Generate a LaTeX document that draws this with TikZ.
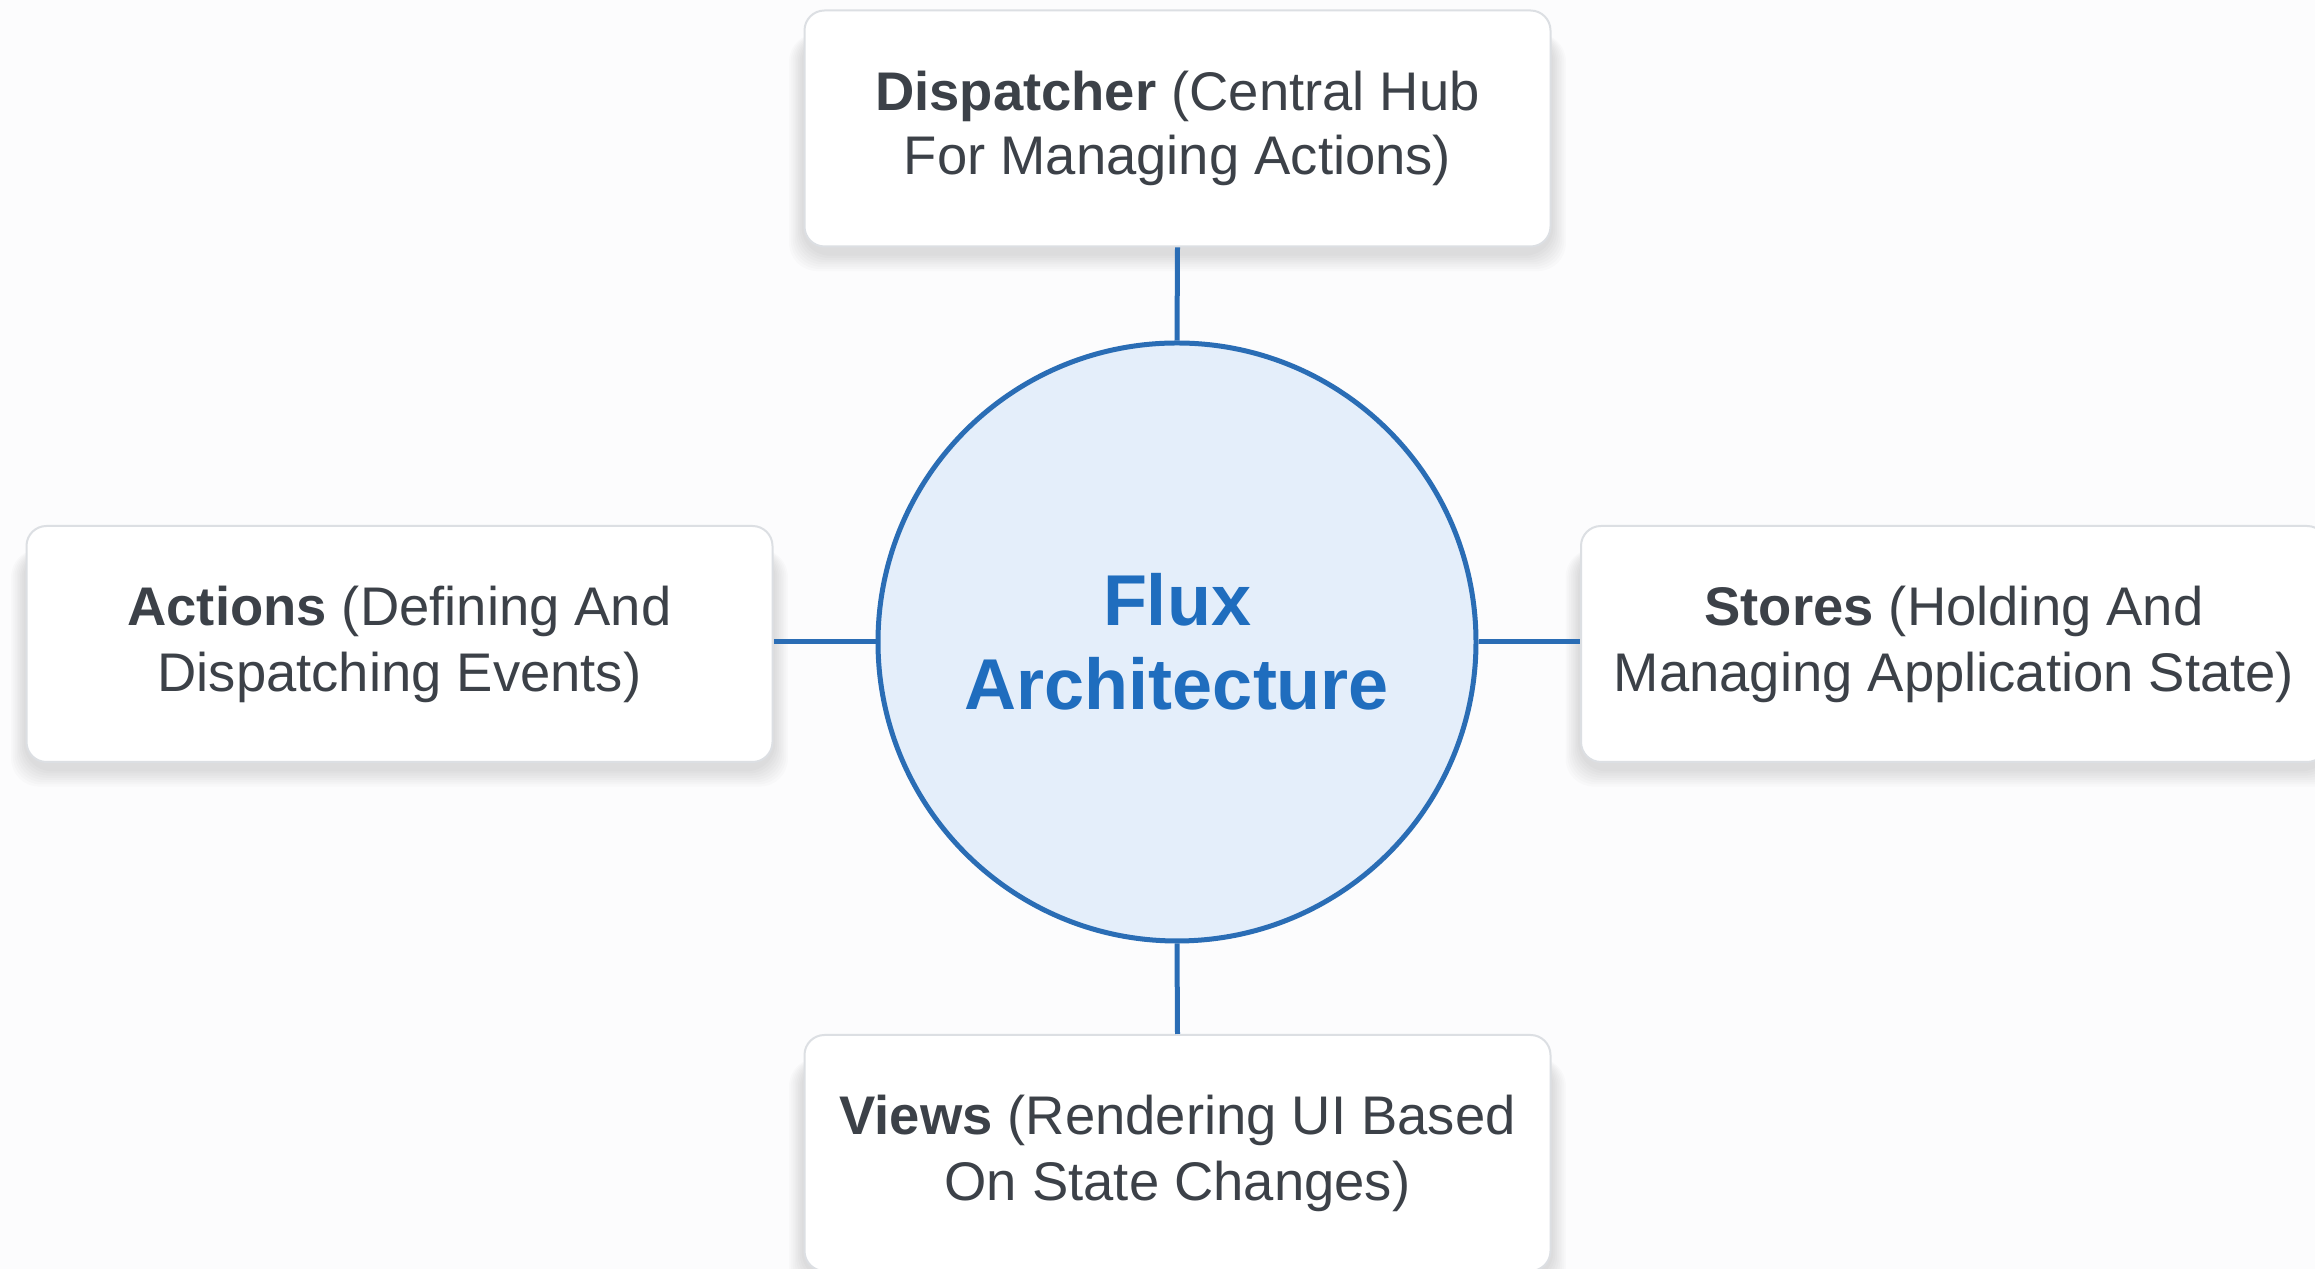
\documentclass[tikz,border=0pt]{standalone}
\usepackage{fontspec}
\setmainfont{Liberation Sans}
\usetikzlibrary{backgrounds}
\definecolor{txt}{HTML}{3C4148}
\definecolor{blu}{HTML}{2A6DB5}
\definecolor{bluetxt}{HTML}{1F6DBE}
\definecolor{circfill}{HTML}{E4EEFA}
\definecolor{boxline}{HTML}{DCDFE3}
\definecolor{bg}{HTML}{FCFCFD}
\begin{document}
\begin{tikzpicture}[x=0.25pt,y=-0.25pt,
  card/.style={draw=boxline, line width=0.5pt, fill=white, rounded corners=5pt,
    minimum width=186.5pt, minimum height=59pt, align=center, text=txt,
    font=\fontsize{13.6}{16.5}\selectfont, inner sep=0pt},
  hub/.style={circle, draw=blu, line width=1.25pt, fill=circfill, minimum size=149.5pt,
    inner sep=0pt, align=center, text=bluetxt, font=\fontsize{18}{21}\selectfont\bfseries},
  link/.style={draw=blu, line width=1.25pt},
  shade/.style={fill=black, opacity=0.014, rounded corners=7pt}]
\clip (0,0) rectangle (2315,1269);
\node[hub] (hub) at (1177,642) {Flux\\Architecture};
\node[card] (disp) at (1177.5,128.5) {\textbf{Dispatcher} (Central Hub\\[-0.5pt]For Managing Actions)};
\node[card] (act) at (399.5,644) {\textbf{Actions} (Defining And\\Dispatching Events)};
\node[card] (sto) at (1954,644) {\textbf{Stores} (Holding And\\Managing Application State)};
\node[card] (view) at (1177.5,1153) {\textbf{Views} (Rendering UI Based\\On State Changes)};
\draw[link] (hub.north) -- (disp.south);
\draw[link] (hub.south) -- (view.north);
\draw[link] (hub.west) -- (hub.west -| act.east);
\draw[link] (hub.east) -- (hub.east -| sto.west);
\begin{scope}[on background layer]
  \fill[bg] (0,0) rectangle (2315,1269);
  \foreach \n in {disp,act,sto,view}{
    \foreach \i in {1,...,8}{
      \fill[shade] ([xshift=-\i*0.45pt, yshift={-(1.5+\i*0.55)*1pt}]\n.south west)
        rectangle ([xshift=\i*0.45pt, yshift=-6pt]\n.north east);
    }
  }
\end{scope}
\end{tikzpicture}
\end{document}
